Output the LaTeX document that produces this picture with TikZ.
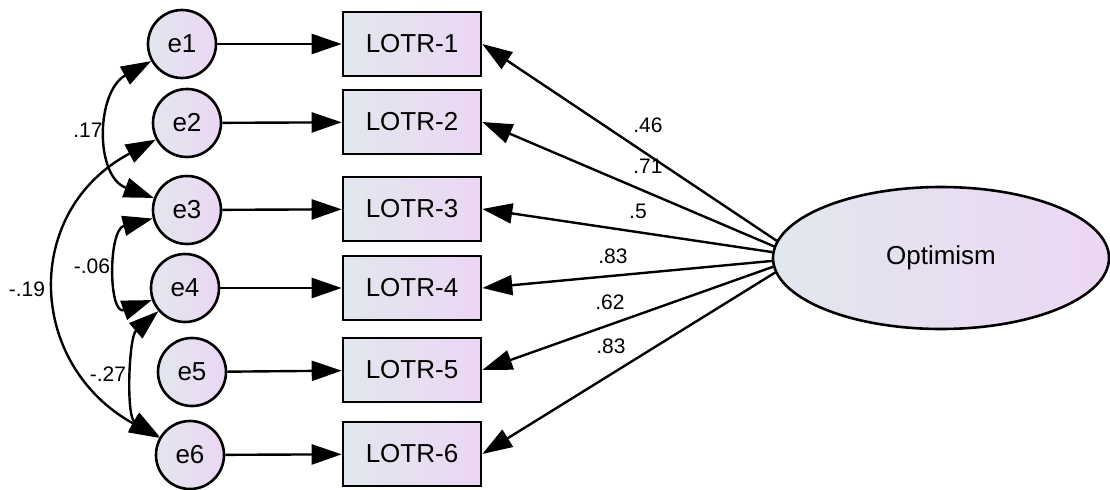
\documentclass[tikz,border=0pt]{standalone}
\usepackage{fontspec}
\setmainfont{Liberation Sans}
\usepackage{tikz}
\usetikzlibrary{shapes,arrows.meta}
\definecolor{fillL}{RGB}{226,231,238}
\definecolor{fillR}{RGB}{236,214,243}

\begin{document}
\begin{tikzpicture}[x=0.5pt, y=0.5pt,
    err/.style={circle, draw, line width=1.3pt, minimum size=34pt, inner sep=0pt,
        left color=fillL, right color=fillR, font=\fontsize{13}{15}\selectfont},
    item/.style={rectangle, draw, line width=1.3pt, minimum width=69pt, minimum height=32pt,
        inner sep=0pt, left color=fillL, right color=fillR, font=\fontsize{13}{15}\selectfont},
    latent/.style={ellipse, draw, line width=1.3pt, minimum width=168pt, minimum height=71pt,
        inner sep=0pt, left color=fillL, right color=fillR, font=\fontsize{13}{15}\selectfont},
    arr/.style={-{Triangle[length=15pt,width=10pt]}, line width=1.2pt},
    cov/.style={{Triangle[length=15pt,width=10pt]}-{Triangle[length=15pt,width=10pt]}, line width=1.2pt},
    coef/.style={inner sep=0pt, font=\fontsize{10.5}{12}\selectfont}]
\useasboundingbox (0,0) rectangle (1110,489);
% error terms and items
\foreach \i/\ex/\ey/\ly in {1/182/445/445, 2/187/366/367, 3/187/279/280, 4/185/201/201, 5/192/117/119, 6/190/34/35} {
    \node[err] (e\i) at (\ex,\ey) {e\i};
    \node[item] (l\i) at (412,\ly) {LOTR-\i};
    \draw[arr] (e\i) -- (l\i);
}
% factor
\node[latent] (opt) at (941,231) {Optimism};
\foreach \i/\a in {1/174, 2/176, 3/178, 4/181, 5/183, 6/185} {
    \draw[arr] (opt.\a) -- (l\i.east);
}
\node[coef] (c1) at (648,364) {.46};
\node[coef] (c2) at (648,323) {.71};
\node[coef] (c3) at (638,278) {.5};
\node[coef] (c4) at (613,233) {.83};
\node[coef] (c5) at (610,187) {.62};
\node[coef] (c6) at (611,143) {.83};
% correlated errors
\draw[cov] (e1.209) to[out=209, in=160, looseness=1.18] (e3.160);
\draw[cov] (e2.208) to[out=208, in=151, looseness=1.3] (e6.151);
\draw[cov] (e3.194) to[out=194, in=200, looseness=1.45] (e4.200);
\draw[cov] (e4.221) to[out=221, in=149, looseness=0.8] (e6.149);
\node[coef] (r13) at (88,359) {.17};
\node[coef] (r26) at (27,200) {-.19};
\node[coef] (r34) at (92,223) {-.06};
\node[coef] (r46) at (108,115) {-.27};
\end{tikzpicture}
\end{document}
